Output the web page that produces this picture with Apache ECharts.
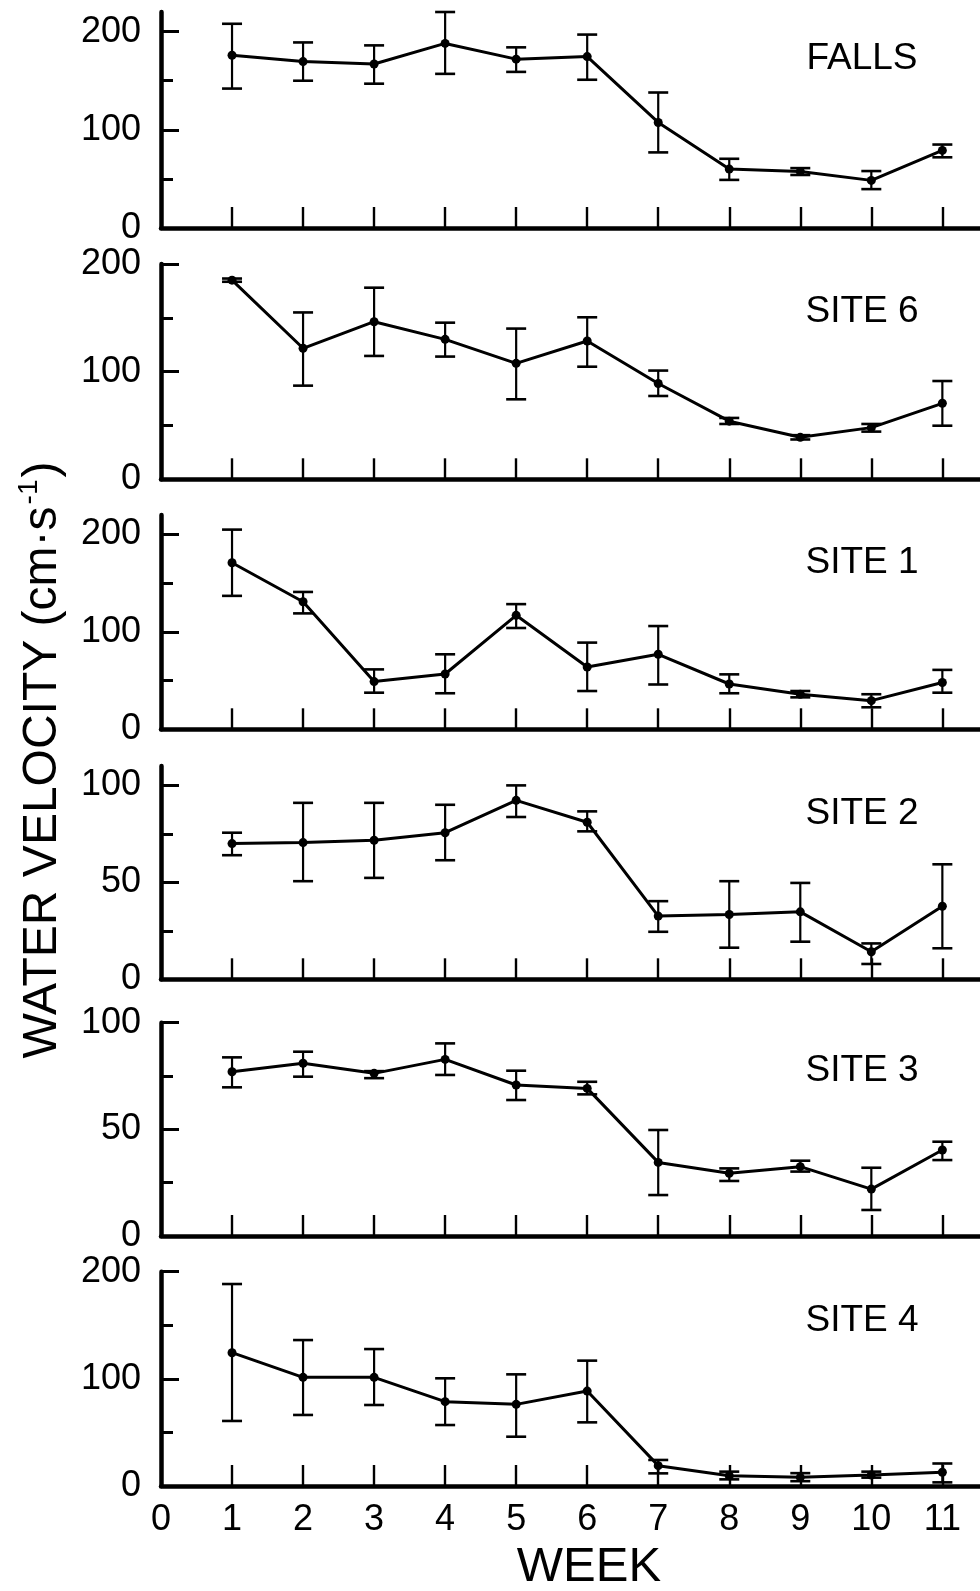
<!DOCTYPE html>
<html><head><meta charset="utf-8">
<script src="https://cdn.jsdelivr.net/npm/echarts@6/dist/echarts.min.js"></script>
<style>html,body{margin:0;padding:0;background:#fff}#c{width:980px;height:1591px}</style>
</head><body><div id="c"></div>
<script>
const weeks = [1,2,3,4,5,6,7,8,9,10,11];
const xTickLabels = [0,1,2,3,4,5,6,7,8,9,10,11];
const panelNames = ['FALLS','SITE 6','SITE 1','SITE 2','SITE 3','SITE 4'];
const yLabels200 = [0,100,200];
const yMinor200 = [50,150];
const yLabels100 = [0,50,100];
const yMinor100 = [25,75];

const fallsMean = [176,169.5,167,188,172,174.6,107.5,60,57.6,48.5,79];
const fallsHi   = [208,189,186,220,184,197,138,70.5,61,58,85];
const fallsLo   = [142,150,147,157,159,151,77,49,54,39.6,72];

const site6Mean = [185,121.7,146.4,130,107.7,128.5,89,54,39,48,70.6];
const site6Hi   = [186.5,155,178,145.5,140,150.5,101,57,41,51.4,91.3];
const site6Lo   = [183.5,87,114.6,114,74.3,104.6,77.4,51.4,37,44.3,49.8];

const site1Mean = [171,131,49,56.8,117,64,77,46.5,36,29.4,48];
const site1Hi   = [205,141,61.5,77,128.5,89,106,56.4,39.3,36,61];
const site1Lo   = [137,119,37.6,37,104,39.3,46,37,32.8,22.6,37.6];

const site2Mean = [70,70.5,71.7,75.6,92.3,81,32.6,33.4,34.8,14.2,37.7];
const site2Hi   = [75.6,91,91,90,100,86.6,40.3,50.6,49.7,18.5,59.3];
const site2Lo   = [64,50.6,52.3,61.4,83.7,76.3,24.5,16.3,19.4,7.9,16];

const site3Mean = [77,81,76.25,82.8,70.8,69.2,34.5,29.4,32.5,22,40.3];
const site3Hi   = [83.75,86.4,77.3,90.3,77.5,72.3,49.7,31.7,35.3,32,44.2];
const site3Lo   = [69.7,74.7,74,75.5,63.75,66.4,19.2,25.8,30.2,12.2,35.6];

const site4Mean = [124.4,101.4,101.4,78.7,76.2,88.6,19,9.6,8.1,10.3,12.8];
const site4Hi   = [188.5,136.2,127.8,100.5,104.2,117,24.3,13.4,12,13.4,21];
const site4Lo   = [60.7,66.3,75.6,56.9,46,59.4,11.8,6.2,4.5,7.8,3.4];

const panels = [
  {mean: fallsMean, hi: fallsHi, lo: fallsLo, max: 220, labels: yLabels200, minor: yMinor200},
  {mean: site6Mean, hi: site6Hi, lo: site6Lo, max: 200, labels: yLabels200, minor: yMinor200},
  {mean: site1Mean, hi: site1Hi, lo: site1Lo, max: 220, labels: yLabels200, minor: yMinor200},
  {mean: site2Mean, hi: site2Hi, lo: site2Lo, max: 110, labels: yLabels100, minor: yMinor100},
  {mean: site3Mean, hi: site3Hi, lo: site3Lo, max: 100, labels: yLabels100, minor: yMinor100},
  {mean: site4Mean, hi: site4Hi, lo: site4Lo, max: 200, labels: yLabels200, minor: yMinor200}
];
const gridTops = [12, 264, 515, 766, 1022.7, 1271.7];
const gridHeights = [216, 215.3, 214.3, 213.3, 213.3, 214.3];
const labelY = [59, 312, 563, 814, 1071, 1321];

const FONT = '"Liberation Sans", Arial, Helvetica, sans-serif';

function renderErr(params, api) {
  const x = api.value(0), lo = api.value(1), hi = api.value(2);
  const pHi = api.coord([x, hi]), pLo = api.coord([x, lo]);
  const w = 10;
  const st = {stroke: '#000', lineWidth: 2.2};
  return {type: 'group', children: [
    {type: 'line', shape: {x1: pHi[0], y1: pHi[1], x2: pLo[0], y2: pLo[1]}, style: st},
    {type: 'line', shape: {x1: pHi[0] - w, y1: pHi[1], x2: pHi[0] + w, y2: pHi[1]}, style: {stroke: '#000', lineWidth: 2.6}},
    {type: 'line', shape: {x1: pLo[0] - w, y1: pLo[1], x2: pLo[0] + w, y2: pLo[1]}, style: {stroke: '#000', lineWidth: 2.6}}
  ]};
}

const grid = [], xAxis = [], yAxis = [], series = [], graphic = [];
panels.forEach((p, i) => {
  grid.push({left: 161, right: 0, top: gridTops[i], height: gridHeights[i], containLabel: false});
  xAxis.push({
    gridIndex: i, type: 'value', min: 0, max: 11.53, interval: 1,
    axisLine: {show: true, onZero: false, lineStyle: {color: '#000', width: 4.5}},
    axisTick: {show: true, inside: true, length: 21, customValues: weeks, lineStyle: {color: '#000', width: 2.4}},
    axisLabel: {show: i === 5, customValues: xTickLabels, color: '#000', fontSize: 36, fontFamily: FONT, margin: 16},
    splitLine: {show: false}
  });
  const step = p.labels[1];
  yAxis.push({
    gridIndex: i, type: 'value', position: 'left', min: 0, max: p.max, interval: step,
    axisLine: {show: true, onZero: false, lineStyle: {color: '#000', width: 4.5}},
    axisTick: {show: true, inside: true, length: 18, customValues: p.labels, lineStyle: {color: '#000', width: 3}},
    axisLabel: {customValues: p.labels, color: '#000', fontSize: 36, fontFamily: FONT, margin: 20},
    splitLine: {show: false}
  });
  yAxis.push({
    gridIndex: i, type: 'value', position: 'left', offset: 0, min: 0, max: p.max, interval: step,
    axisLine: {show: false},
    axisTick: {show: true, inside: true, length: 12, customValues: p.minor, lineStyle: {color: '#000', width: 3}},
    axisLabel: {show: false},
    splitLine: {show: false}
  });
  series.push({
    type: 'custom', xAxisIndex: i, yAxisIndex: 2 * i,
    data: weeks.map((w, k) => [w, p.lo[k], p.hi[k]]),
    encode: {x: 0, y: [1, 2]}, renderItem: renderErr, clip: false, silent: true, z: 2
  });
  series.push({
    type: 'line', xAxisIndex: i, yAxisIndex: 2 * i,
    data: weeks.map((w, k) => [w, p.mean[k]]),
    symbol: 'circle', symbolSize: 9, showSymbol: true,
    lineStyle: {color: '#000', width: 3}, itemStyle: {color: '#000'},
    z: 3, silent: true
  });
  graphic.push({
    type: 'text', x: 862, y: labelY[i],
    style: {text: panelNames[i], font: '37px ' + FONT, fill: '#000',
      align: 'center', verticalAlign: 'middle', textAlign: 'center', textVerticalAlign: 'middle'}
  });
});

graphic.push({
  type: 'text', x: 589, y: 1567,
  style: {text: 'WEEK', font: '49px ' + FONT, fill: '#000',
    align: 'center', verticalAlign: 'middle', textAlign: 'center', textVerticalAlign: 'middle'}
});
graphic.push({
  type: 'text', x: 41, y: 760, rotation: Math.PI / 2,
  style: {
    text: '{n|WATER VELOCITY (cm·s}{s|-1}{n|)}',
    align: 'center', verticalAlign: 'middle', textAlign: 'center', textVerticalAlign: 'middle',
    fill: '#000',
    rich: {
      n: {fontSize: 48, fontFamily: FONT, fill: '#000', color: '#000', lineHeight: 52, verticalAlign: 'bottom'},
      s: {fontSize: 28, fontFamily: FONT, fill: '#000', color: '#000', lineHeight: 52, verticalAlign: 'top', padding: [0, 2, 22, 2]}
    }
  }
});

const chart = echarts.init(document.getElementById('c'), null, {renderer: 'canvas'});
chart.setOption({
  animation: false,
  backgroundColor: '#fff',
  grid, xAxis, yAxis, series, graphic
});
</script>
</body></html>
